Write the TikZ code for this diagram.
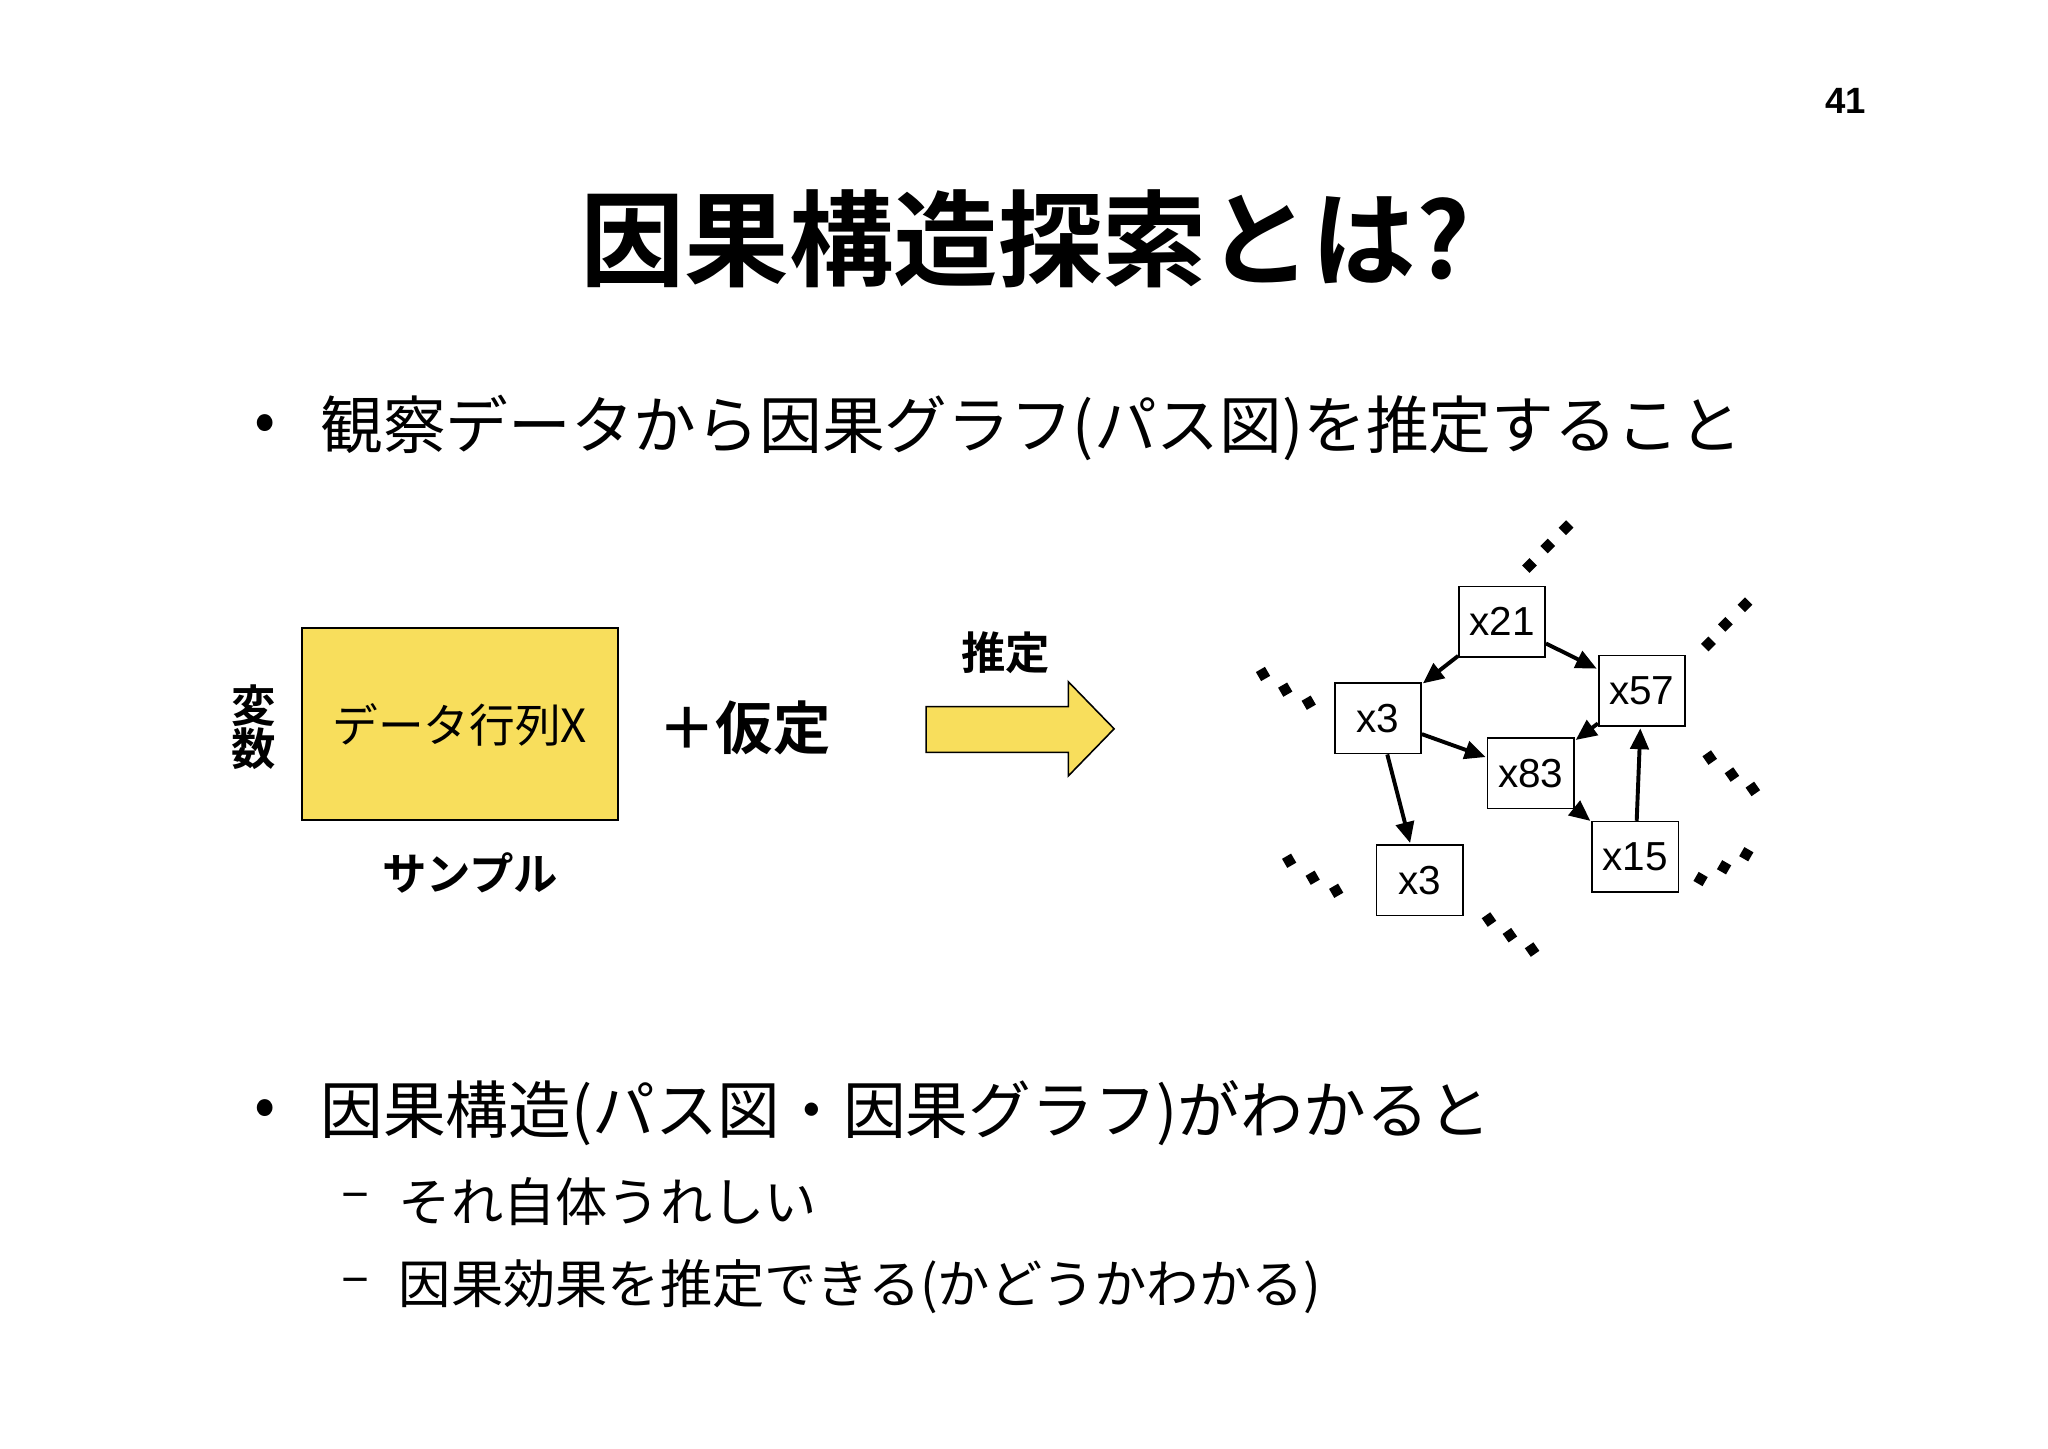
\documentclass[tikz,border=0pt]{standalone}
\usepackage{fontspec}
\setmainfont{Liberation Sans}
\newfontfamily\cjk{Noto Sans CJK JP}
\newfontfamily\cjkb{Noto Sans CJK JP Bold}
\usetikzlibrary{arrows.meta,shapes.arrows}
\definecolor{ylw}{HTML}{F8DE5C}
\tikzset{
 txt/.style={inner sep=0pt,font=\cjk},
 gnode/.style={draw,line width=0.6pt,minimum width=33pt,minimum height=27pt,inner sep=0pt,font=\fontsize{15.5}{16}\selectfont,fill=white},
 edge/.style={line width=1.5pt,-{Triangle[length=8pt,width=7pt]},shorten >=0.5pt},
 dot/.style={fill=black,minimum size=4pt,inner sep=0pt,rectangle}
}
\begin{document}
\begin{tikzpicture}[x=0.5pt,y=-0.5pt]
\useasboundingbox (0,0) rectangle (1568,1109);
\node[txt,font=\bfseries\fontsize{14}{16}\selectfont] (pg) at (1413,77) {41};
\node[txt,font=\cjkb\fontsize{40}{44}\selectfont] (title) at (785,183) {因果構造探索とは?};
\node[txt,font=\cjk\fontsize{24}{28}\selectfont] (b1) at (203,328) {•};
\node[txt,anchor=west,font=\cjk\fontsize{24}{28}\selectfont] (t1) at (245,328) {観察データから因果グラフ(パス図)を推定すること};
% data block
\draw[fill=ylw,line width=0.6pt] (231,481) rectangle (473,628);
\node[txt,font=\cjk\fontsize{17.5}{20}\selectfont] (data) at (352,555) {データ行列X};
\node[txt,font=\cjkb\fontsize{17}{19}\selectfont] (v1) at (194,540) {変};
\node[txt,font=\cjkb\fontsize{17}{19}\selectfont] (v2) at (194,573) {数};
\node[txt,font=\cjkb\fontsize{17}{19}\selectfont] (smp) at (360,668) {サンプル};
\node[txt,font=\cjkb\fontsize{22}{24}\selectfont] (asm) at (570,557) {＋仮定};
\node[txt,font=\cjkb\fontsize{17}{19}\selectfont] (est) at (770,500) {推定};
\draw[fill=ylw,line width=0.6pt] (709,541) -- (818,541) -- (818,522) -- (853,558) -- (818,594) -- (818,576) -- (709,576) -- cycle;
% graph
\node[gnode] (a) at (1150,476) {x21};
\node[gnode] (b) at (1055,550) {x3};
\node[gnode] (c) at (1257,529) {x57};
\node[gnode] (d) at (1172,592) {x83};
\node[gnode] (e) at (1252,656) {x15};
\node[gnode] (f) at (1087,674) {x3};
\draw[edge] (a) -- (b);
\draw[edge] (a) -- (c);
\draw[edge] (c) -- (d);
\draw[edge] (b) -- (d);
\draw[edge] (b) -- (f);
\draw[edge] (d) -- (e);
\draw[edge] (e) -- (c);
\foreach \x/\y/\r [count=\i] in {1171/433/45,1185/418/45,1199/404/45,
 1308/493/45,1321/478/45,1336/463/45,
 967/516/30,984/528/30,1002/538/30,
 1309/580/35,1326/593/35,1342/604/35,
 987/659/30,1005/672/30,1023/682/30,
 1140/704/35,1156/716/35,1173/727/35,
 1302/673/-30,1320/664/-30,1337/654/-30}
 \node[dot,rotate=\r] (dt\i) at (\x,\y) {};
% bullet 2
\node[txt,font=\cjk\fontsize{24}{28}\selectfont] (b2) at (203,852) {•};
\node[txt,anchor=west,font=\cjk\fontsize{24}{28}\selectfont] (t2) at (245,852) {因果構造(パス図・因果グラフ)がわかると};
\node[txt,font=\cjk\fontsize{20}{24}\selectfont] (d1) at (272,920) {–};
\node[txt,anchor=west,font=\cjk\fontsize{20}{24}\selectfont] (s1) at (305,920) {それ自体うれしい};
\node[txt,font=\cjk\fontsize{20}{24}\selectfont] (d2) at (272,985) {–};
\node[txt,anchor=west,font=\cjk\fontsize{20}{24}\selectfont] (s2) at (305,985) {因果効果を推定できる(かどうかわかる)};
\end{tikzpicture}
\end{document}
